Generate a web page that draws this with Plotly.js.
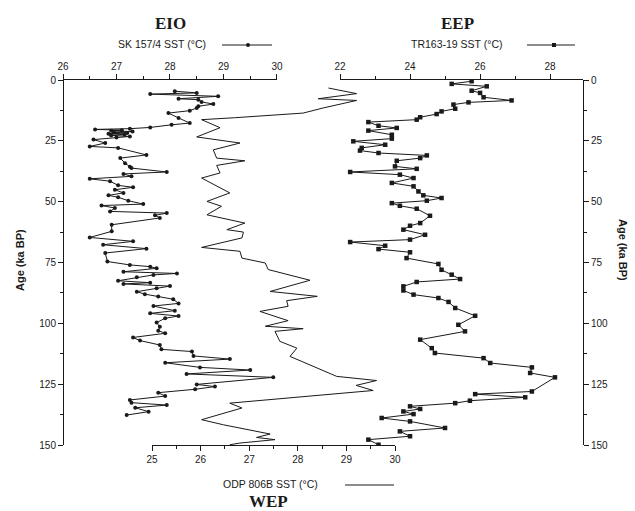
<!DOCTYPE html>
<html>
<head>
<meta charset="utf-8">
<script src="https://cdn.plot.ly/plotly-3.0.1.min.js"></script>
<style>html,body{margin:0;padding:0;background:#fff;}#chart{width:635px;height:511px;}</style>
</head>
<body>
<div id="chart"></div>
<script>
// SK 157/4 (EIO) — age (ka BP) and SST (°C)
const skAge = [4.6,5.3,5.8,6.7,7.7,8.1,9.0,9.9,10.8,11.5,12.6,13.6,15.6,17.7,18.4,19.5,20.0,20.3,20.6,20.9,21.2,21.5,21.8,22.1,22.4,22.8,23.2,23.6,24.5,25.9,27.3,27.9,30.8,32.1,34.2,35.6,36.2,37.8,38.6,39.6,40.6,41.6,43.3,44.1,45.1,46.4,47.4,48.2,49.6,51.0,51.6,52.6,54.0,54.7,55.6,56.7,59.5,62.2,64.7,66.3,67.7,69.3,71.1,74.6,76.0,76.7,77.4,78.8,79.5,80.1,81.1,82.5,83.3,83.8,84.7,85.6,87.0,88.0,89.0,90.1,91.8,92.9,94.8,95.9,97.0,97.9,99.7,101.4,103.0,104.1,105.8,107.1,108.9,110.7,111.6,113.4,114.7,116.2,118.1,119.2,120.8,122.2,125.1,126.0,127.1,128.5,129.9,131.5,132.6,133.6,134.7,136.3,137.7];
const skSST = [28.09,28.5,27.63,28.9,28.16,28.53,28.59,28.81,28.53,28.5,28.37,27.97,28.16,28.37,28.03,27.63,27.25,26.6,27.1,26.9,27.3,26.95,27.2,26.85,27.15,26.9,27.25,27.0,26.57,26.79,26.5,27.03,27.56,27.07,27.16,27.25,27.28,27.94,27.13,27.28,26.5,26.88,27.03,27.31,26.97,27.13,26.85,27.03,27.22,27.5,26.72,26.97,26.88,27.94,27.72,27.81,26.91,26.91,26.5,27.31,26.75,27.56,26.79,26.83,27.25,27.63,27.75,27.13,28.13,27.69,27.38,27.03,27.63,27.13,28.0,27.75,27.38,27.53,27.78,28.06,28.16,27.69,28.09,27.63,28.16,27.91,27.75,27.81,27.78,27.91,27.31,27.44,27.81,27.84,28.41,28.44,29.12,27.91,28.56,29.5,28.31,29.93,28.5,28.84,28.47,27.78,27.91,27.25,27.28,27.94,27.35,27.6,27.19];

// ODP 806B (WEP)
const odpAge = [3.3,5.6,7.7,8.4,11.5,13.6,15.5,16.3,19.6,23.4,25.9,28.7,32.1,33.2,35.1,38.2,40.3,46.4,49.9,51.9,55.4,58.8,61.5,62.5,64.9,68.8,70.4,73.2,75.2,77.9,82.3,86.9,88.9,90.7,93.0,95.1,98.9,101.2,102.2,103.3,107.4,110.2,113.6,121.8,123.5,125.5,127.6,132.8,134.8,139.6,141.7,145.5,146.9,147.8,149.2,149.9];
const odpSST = [28.63,29.21,28.42,29.21,28.52,28.11,26.7,26.02,26.4,25.92,26.81,26.26,26.33,26.91,26.33,26.4,26.02,26.6,26.13,26.43,26.13,26.91,26.54,26.88,26.85,26.02,26.81,26.85,27.33,27.39,28.25,27.43,28.4,27.77,27.8,27.22,27.8,27.33,28.11,27.53,27.63,27.98,27.84,28.8,29.62,29.2,29.55,26.6,26.85,26.02,26.47,27.43,27.15,27.53,26.81,26.6];

// TR163-19 (EEP)
const trAge = [0.5,1.6,2.6,4.4,5.3,7.1,8.4,9.2,10.1,11.8,12.9,14.0,15.3,16.3,17.3,18.8,19.7,20.8,22.5,24.1,25.2,26.6,27.9,29.0,30.0,31.0,32.1,33.2,35.5,36.5,37.8,38.9,40.3,42.3,43.7,45.8,47.4,48.5,49.6,50.6,51.7,52.9,55.8,58.8,59.9,61.5,63.6,65.6,66.6,68.1,69.5,70.8,73.2,75.6,78.0,80.0,81.8,83.0,84.8,86.5,88.2,89.6,91.2,93.7,96.9,100.6,103.3,106.7,110.2,112.2,114.3,116.3,118.1,120.4,122.2,128.0,129.1,130.4,131.8,132.8,134.1,135.2,136.2,137.3,138.9,140.3,143.0,144.4,146.4,147.8,149.9];
const trSST = [25.76,25.19,26.19,25.76,26.0,26.1,26.9,25.67,25.24,25.29,24.9,24.76,24.29,24.19,22.81,23.1,23.62,22.81,23.48,23.48,22.38,23.29,22.62,22.57,23.1,24.48,24.29,23.62,23.57,24.19,22.29,23.71,24.1,23.48,24.1,24.24,24.38,24.9,24.48,23.48,23.71,24.19,24.57,24.29,24.0,23.81,24.43,24.0,22.29,23.29,23.1,24.0,23.9,24.81,24.9,25.19,25.43,24.19,23.81,23.81,24.1,24.81,25.1,25.29,25.86,25.38,25.57,24.29,24.62,24.71,26.1,26.29,27.48,27.43,28.14,27.48,25.86,27.29,25.71,25.29,24.0,24.29,23.81,24.1,23.19,24.0,25.0,23.71,24.0,22.81,23.1];

const ink = '#1a1a1a';
const tickFont = {family: 'Liberation Sans, Arial, sans-serif', size: 10, color: ink};

const traces = [
  {x: odpSST, y: odpAge, xaxis: 'x', yaxis: 'y', mode: 'lines', line: {color: ink, width: 1}, hoverinfo: 'skip'},
  {x: skSST, y: skAge, xaxis: 'x2', yaxis: 'y', mode: 'lines+markers', line: {color: ink, width: 1}, marker: {symbol: 'circle', size: 4, color: ink}, hoverinfo: 'skip'},
  {x: trSST, y: trAge, xaxis: 'x3', yaxis: 'y', mode: 'lines+markers', line: {color: ink, width: 1}, marker: {symbol: 'square', size: 4.5, color: ink}, hoverinfo: 'skip'},
  {x: [25], y: [0], xaxis: 'x', yaxis: 'y2', mode: 'markers', marker: {opacity: 0}, hoverinfo: 'skip'}
];

const baseX = {showgrid: false, zeroline: false, showline: true, linecolor: ink, linewidth: 1, ticks: 'outside', ticklen: 5, tickcolor: ink, tickfont: tickFont, fixedrange: true};
const baseY = {range: [150, 0], showgrid: false, zeroline: false, showline: true, linecolor: ink, linewidth: 1, ticks: 'outside', ticklen: 5, tickcolor: ink, tickfont: tickFont, tickvals: [0,25,50,75,100,125,150], minor: {tickvals: [12.5,37.5,62.5,87.5,112.5,137.5], ticklen: 3, ticks: 'outside', tickcolor: ink}, fixedrange: true};

const layout = {
  width: 635, height: 511,
  margin: {l: 63, r: 52, t: 80, b: 66},
  paper_bgcolor: '#fff', plot_bgcolor: 'rgba(0,0,0,0)',
  showlegend: false,
  font: {family: 'Liberation Sans, Arial, sans-serif', color: ink},
  xaxis: Object.assign({}, baseX, {domain: [0.1712, 0.6385], range: [25, 30], anchor: 'y', side: 'bottom', tickvals: [25,26,27,28,29,30], minor: {dtick: 0.5, ticklen: 3, ticks: 'outside', tickcolor: ink}}),
  xaxis2: Object.assign({}, baseX, {domain: [0, 0.4115], range: [26, 30], anchor: 'y', side: 'top', tickvals: [26,27,28,29,30], minor: {dtick: 0.5, ticklen: 3, ticks: 'outside', tickcolor: ink}}),
  xaxis3: Object.assign({}, baseX, {domain: [0.5327, 1], range: [22, 28.94], anchor: 'y', side: 'top', tickvals: [22,24,26,28], minor: {dtick: 1, ticklen: 3, ticks: 'outside', tickcolor: ink}}),
  yaxis: Object.assign({}, baseY, {anchor: 'free', position: 0, side: 'left'}),
  yaxis2: Object.assign({}, baseY, {anchor: 'free', position: 1, side: 'right', overlaying: 'y'}),
  annotations: [
    {text: '<b>EIO</b>', x: 170, y: 23, xref: 'paper', yref: 'paper', showarrow: false, font: {family: 'Liberation Serif, Times New Roman, serif', size: 17, color: ink}},
    {text: 'SK 157/4 SST (°C)', x: 162, y: 44, showarrow: false, font: {size: 10.5, color: ink}},
    {text: '<b>EEP</b>', x: 457, y: 23, showarrow: false, font: {family: 'Liberation Serif, Times New Roman, serif', size: 17, color: ink}},
    {text: 'TR163-19 SST (°C)', x: 457, y: 44, showarrow: false, font: {size: 10.5, color: ink}},
    {text: 'ODP 806B SST (°C)', x: 270, y: 484, showarrow: false, font: {size: 10.5, color: ink}},
    {text: '<b>WEP</b>', x: 268, y: 502, showarrow: false, font: {family: 'Liberation Serif, Times New Roman, serif', size: 17, color: ink}},
    {text: '<b>Age (ka BP)</b>', x: 20, y: 260, textangle: -90, showarrow: false, font: {size: 11, color: ink}},
    {text: '<b>Age (ka BP)</b>', x: 623, y: 250, textangle: 90, showarrow: false, font: {size: 11, color: ink}}
  ],
  shapes: [
    {type: 'line', x0: 222, x1: 272, y0: 45, y1: 45, line: {color: ink, width: 1}},
    {type: 'circle', x0: 246, x1: 250, y0: 43, y1: 47, fillcolor: ink, line: {color: ink, width: 0}},
    {type: 'line', x0: 527, x1: 575, y0: 45, y1: 45, line: {color: ink, width: 1}},
    {type: 'rect', x0: 552, x1: 556, y0: 43, y1: 47, fillcolor: ink, line: {color: ink, width: 0}},
    {type: 'line', x0: 345, x1: 394, y0: 485, y1: 485, line: {color: ink, width: 1}}
  ]
};

// convert pixel-positioned annotations/shapes to paper coordinates
const W = 635, H = 511, L = 63, R = 52, T = 80, B = 66;
const pw = W - L - R, ph = H - T - B;
const px2x = v => (v - L) / pw;
const px2y = v => 1 - (v - T) / ph;
layout.annotations.forEach(a => { a.xref = 'paper'; a.yref = 'paper'; a.x = px2x(a.x); a.y = px2y(a.y); a.xanchor = 'center'; a.yanchor = 'middle'; });
layout.shapes.forEach(s => { s.xref = 'paper'; s.yref = 'paper'; s.x0 = px2x(s.x0); s.x1 = px2x(s.x1); s.y0 = px2y(s.y0); s.y1 = px2y(s.y1); });

Plotly.newPlot('chart', traces, layout, {displayModeBar: false, staticPlot: true});
</script>
</body>
</html>
